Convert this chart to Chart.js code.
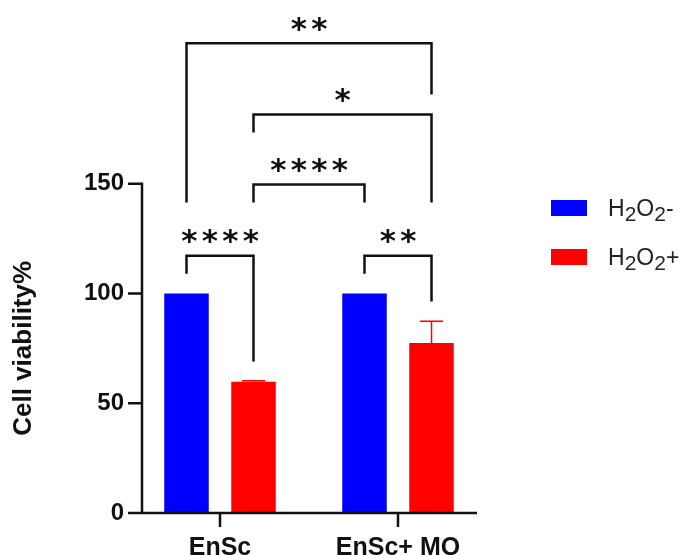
<!DOCTYPE html>
<html lang="en">
<head>
  <meta charset="UTF-8">
  <title>Cell viability</title>
  <script src="https://cdn.jsdelivr.net/npm/chart.js"></script>
  <style>
    body { margin: 0; background: #fff; }
    .wrap { position: relative; width: 686px; height: 555px; }
    .legend { position: absolute; left: 551px; top: 194px; font-family: "Liberation Sans", Arial, sans-serif; font-size: 23px; color: #222; }
    .legend .row { display: flex; align-items: center; height: 28px; margin-bottom: 21px; }
    .legend .box { width: 36px; height: 16px; margin-right: 21px; }
    .legend sub { font-size: 21px; position: relative; top: 6px; vertical-align: baseline; line-height: 0; }
  </style>
</head>
<body>
<div class="wrap">
  <canvas id="grafico" width="686" height="555"></canvas>
  <div class="legend">
    <div class="row"><span class="box" style="background:#0000ff"></span>H<sub>2</sub>O<sub>2</sub>-</div>
    <div class="row"><span class="box" style="background:#ff0000"></span>H<sub>2</sub>O<sub>2</sub>+</div>
  </div>
</div>

<script>
  // valores
  const categories = ["EnSc", "EnSc+ MQ"];
  const h2o2Minus = [100, 100];
  const h2o2Plus = [59.8, 77.4];
  const h2o2MinusErr = [0, 0];
  const h2o2PlusErr = [0.4, 9.9];
  const yTicks = [0, 50, 100, 150];

  // colchetes de significância: [dataset, categoria] de cada ponta, altura (valor) e fim das pernas
  const brackets = [
    { a: [0, 0], b: [1, 0], top: 117.2, endA: 109, endB: 69, label: "****" },
    { a: [0, 1], b: [1, 1], top: 117.2, endA: 109, endB: 96.3, label: "**" },
    { a: [1, 0], b: [0, 1], top: 149.6, endA: 141.4, endB: 141.4, label: "****" },
    { a: [1, 0], b: [1, 1], top: 181.5, endA: 173.3, endB: 141.4, label: "*" },
    { a: [0, 0], b: [1, 1], top: 214, endA: 141.4, endB: 190.6, label: "**" }
  ];

  const FONT = '"Liberation Sans", Arial, sans-serif';
  const INK = "#111";

  const extras = {
    id: "extras",
    afterDatasetsDraw(chart) {
      const { ctx, chartArea, scales: { x, y } } = chart;
      ctx.save();

      // barras de erro
      const errs = [h2o2MinusErr, h2o2PlusErr];
      errs.forEach((err, d) => {
        const meta = chart.getDatasetMeta(d);
        const ds = chart.data.datasets[d];
        meta.data.forEach((bar, i) => {
          if (!err[i]) return;
          const top = y.getPixelForValue(ds.data[i] + err[i]);
          ctx.strokeStyle = ds.backgroundColor;
          ctx.lineWidth = 1.5;
          ctx.beginPath();
          ctx.moveTo(bar.x, bar.y);
          ctx.lineTo(bar.x, top);
          ctx.moveTo(bar.x - bar.width * 0.26, top);
          ctx.lineTo(bar.x + bar.width * 0.26, top);
          ctx.stroke();
        });
      });

      // eixos
      const axisX = chartArea.left + 11;
      const y0 = y.getPixelForValue(0);
      const yEnd = y.getPixelForValue(yTicks[yTicks.length - 1]);
      ctx.strokeStyle = INK;
      ctx.lineWidth = 2.5;
      ctx.beginPath();
      ctx.moveTo(axisX, yEnd - 1.25);
      ctx.lineTo(axisX, y0);
      yTicks.forEach(v => {
        const p = y.getPixelForValue(v);
        ctx.moveTo(axisX - 14, p);
        ctx.lineTo(axisX, p);
      });
      ctx.moveTo(axisX - 14, y0);
      ctx.lineTo(chartArea.right - 10, y0);
      categories.forEach((c, i) => {
        const p = x.getPixelForValue(i);
        ctx.moveTo(p, y0);
        ctx.lineTo(p, y0 + 14);
      });
      ctx.stroke();

      // colchetes
      const barX = ([d, i]) => chart.getDatasetMeta(d).data[i].x;
      ctx.lineJoin = "miter";
      brackets.forEach(br => {
        const xa = barX(br.a), xb = barX(br.b);
        const yt = y.getPixelForValue(br.top);
        ctx.beginPath();
        ctx.moveTo(xa, y.getPixelForValue(br.endA));
        ctx.lineTo(xa, yt);
        ctx.lineTo(xb, yt);
        ctx.lineTo(xb, y.getPixelForValue(br.endB));
        ctx.stroke();

        ctx.fillStyle = INK;
        ctx.font = 'bold 31px "DejaVu Sans", sans-serif';
        ctx.textAlign = "center";
        ctx.textBaseline = "alphabetic";
        const m = ctx.measureText("*");
        const cy = yt - 19;
        const base = cy + (m.actualBoundingBoxAscent - m.actualBoundingBoxDescent) / 2;
        const n = br.label.length;
        const cx = (xa + xb) / 2;
        for (let k = 0; k < n; k++) {
          ctx.fillText("*", cx + (k - (n - 1) / 2) * 20.5, base);
        }
      });

      // título do eixo y
      ctx.translate(24, (y0 + yEnd) / 2);
      ctx.rotate(-Math.PI / 2);
      ctx.font = "bold 26px " + FONT;
      ctx.textAlign = "center";
      ctx.textBaseline = "middle";
      ctx.fillText("Cell viability%", 0, 0);
      ctx.restore();
    }
  };

  new Chart(document.getElementById("grafico"), {
    type: "bar",
    data: {
      labels: categories,
      datasets: [
        { label: "H2O2-", data: h2o2Minus, backgroundColor: "#0000ff" },
        { label: "H2O2+", data: h2o2Plus, backgroundColor: "#ff0000" }
      ]
    },
    options: {
      responsive: false,
      animation: false,
      categoryPercentage: 0.753,
      barPercentage: 0.664,
      layout: { padding: { top: 8, right: 199, left: 0, bottom: 0 } },
      plugins: { legend: { display: false }, tooltip: { enabled: false } },
      scales: {
        x: {
          grid: { display: false, drawTicks: false },
          border: { display: false },
          ticks: { padding: 20, color: INK, font: { family: FONT, size: 25, weight: "bold" } },
          afterFit: s => { s.height = 42; s.paddingLeft = 0; s.paddingRight = 0; }
        },
        y: {
          min: 0,
          max: 230,
          grid: { display: false, drawTicks: false },
          border: { display: false },
          afterBuildTicks: s => { s.ticks = yTicks.map(v => ({ value: v })); },
          ticks: { padding: 7, color: INK, font: { family: FONT, size: 24, weight: "bold" } },
          afterFit: s => { s.width = 131; s.paddingTop = 0; s.paddingBottom = 0; }
        }
      }
    },
    plugins: [extras]
  });
</script>
</body>
</html>
